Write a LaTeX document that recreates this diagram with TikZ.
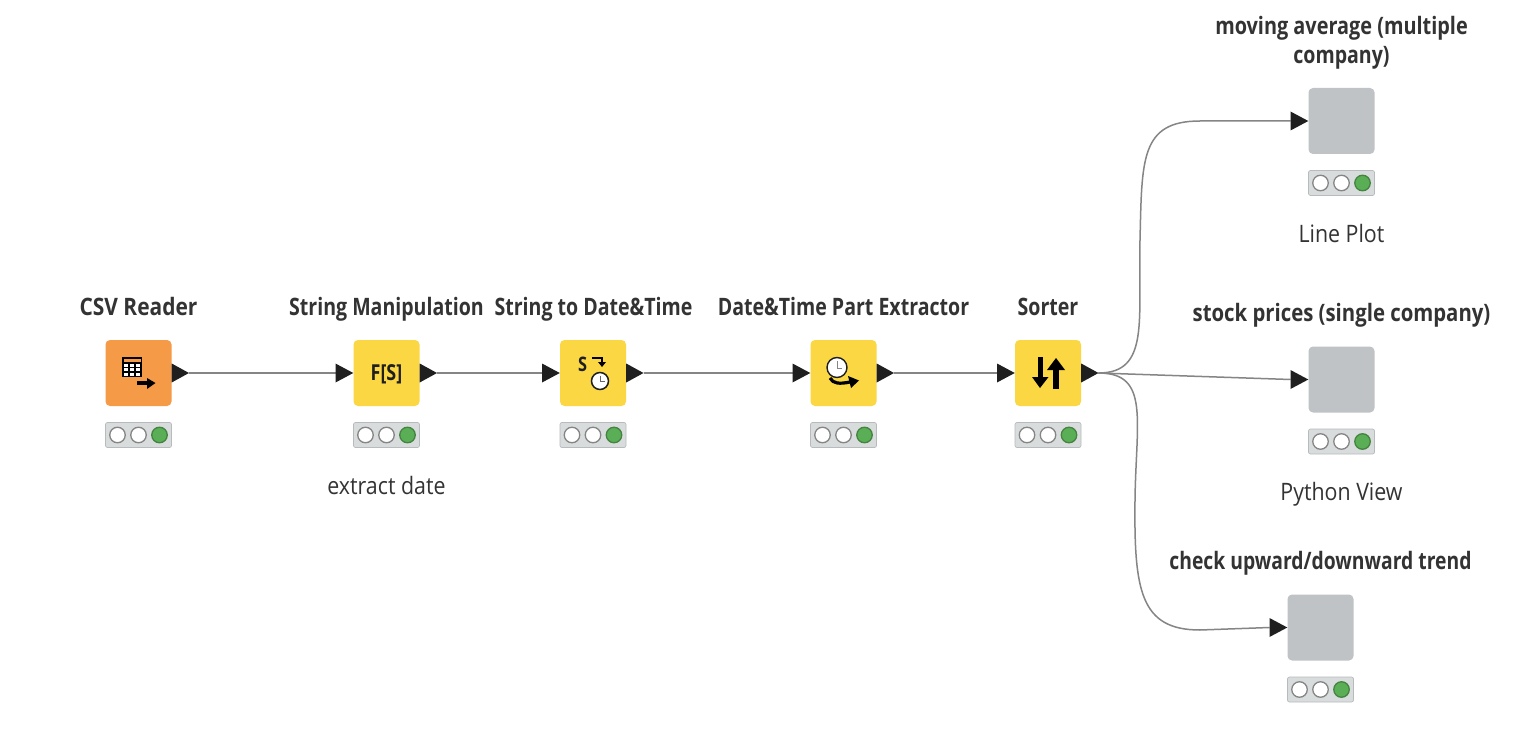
\documentclass[tikz,border=0pt]{standalone}
\usepackage{fontspec}
\usepackage{graphicx}
\setmainfont[FakeStretch=0.89,BoldFeatures={FakeStretch=0.815}]{Open Sans}
\usetikzlibrary{calc}
\definecolor{linec}{HTML}{858585}
\definecolor{port}{HTML}{1F1F1F}
\definecolor{orangeb}{HTML}{F59A47}
\definecolor{yellowb}{HTML}{FBD743}
\definecolor{greyb}{HTML}{BFC3C6}
\definecolor{lightb}{HTML}{D9DCDC}
\definecolor{greenl}{HTML}{5AAF56}
\definecolor{textc}{HTML}{333333}
\tikzset{
 x=1pt,y=-1pt,
 knode/.style={draw=none,rounded corners=4.5pt,minimum width=66pt,minimum height=66pt,inner sep=0pt},
 lightbar/.style={draw=lightb!85!black,line width=.7pt,fill=lightb,rounded corners=2pt,minimum width=66pt,minimum height=25pt,inner sep=0pt},
 lamp/.style={circle,draw=linec,line width=1.3pt,fill=white,minimum size=15.5pt,inner sep=0pt},
 lampon/.style={circle,draw=greenl!75!black,line width=1.3pt,fill=greenl,minimum size=15.5pt,inner sep=0pt},
 porttri/.style={fill=port,draw=none},
 wire/.style={draw=linec,line width=1.5pt},
 title/.style={text=textc,font=\fontsize{24}{29}\selectfont\bfseries,align=center,inner sep=0pt,anchor=base},
 note/.style={text=textc,font=\fontsize{24}{29}\selectfont,align=center,inner sep=0pt,anchor=base},
}
\newcommand{\knime}[4]{%
 \node[knode,fill=#4] (#1) at (#2,#3) {};
 \node[lightbar] (#1bar) at (#2,#3+62) {};
 \node[lamp] (#1a) at (#2-21,#3+62) {};
 \node[lamp] (#1b) at (#2,#3+62) {};
 \node[lampon] (#1c) at (#2+21,#3+62) {};
 \coordinate (#1out) at (#2+50.5,#3);
 \coordinate (#1in) at (#2-51,#3);
}
\newcommand{\outport}[1]{\fill[porttri] ($(#1.east)+(0,-9.5)$) -- (#1out) -- ($(#1.east)+(0,9.5)$) -- cycle;}
\newcommand{\inport}[1]{\fill[porttri] (#1in) ++(0,-9.5) -- (#1.west) -- ($(#1in)+(0,9.5)$) -- cycle;}
\begin{document}
\begin{tikzpicture}
\useasboundingbox (0,0) rectangle (1536,738);
\fill[white] (0,0) rectangle (1536,738);
\knime{csv}{138.5}{373}{orangeb}
\knime{sm}{386.5}{373}{yellowb}
\knime{sd}{593}{373}{yellowb}
\knime{dt}{843.5}{373}{yellowb}
\knime{so}{1048}{373}{yellowb}
\knime{lp}{1341.5}{121}{greyb}
\knime{py}{1341.5}{379.5}{greyb}
\knime{ck}{1320.5}{627.5}{greyb}
% connectors
\draw[wire] (csvout) -- (smin);
\draw[wire] (smout) -- (sdin);
\draw[wire] (sdout) -- (dtin);
\draw[wire] (dtout) -- (soin);
\draw[wire] (soout) .. controls (1150,373) and (1138,320) .. (1140,240) .. controls (1142,160) and (1140,121) .. (1200,121) -- (lpin);
\draw[wire] (soout) -- (pyin);
\draw[wire] (soout) .. controls (1150,373) and (1136,420) .. (1135,500) .. controls (1134,590) and (1140,630) .. (1200,630) -- (ckin);
% ports
\foreach \n in {csv,sm,sd,dt,so}{\outport{\n}}
\foreach \n in {sm,sd,dt,so,lp,py,ck}{\inport{\n}}
% CSV icon
\begin{scope}[shift={(122,357)}]
 \fill[black] (0,0) rectangle (20,20);
 \fill[orangeb] (1.5,1.5) rectangle (18.5,4.5);
 \foreach \i in {0,1,2}\foreach \j in {0,1,2}{\fill[white] (1.5+6*\i,6.5+4.6*\j) rectangle (6.2+6*\i,9.8+4.6*\j);}
 \draw[black,line width=3.4pt] (15,26) -- (28,26);
 \fill[black] (25,21) -- (33.5,26) -- (25,32) -- cycle;
\end{scope}
% F[S] icon
\node[inner sep=0pt,text=port,font=\fontsize{22}{22}\selectfont\bfseries] (smicon) at (386.5,374) {F[S]};
% S to clock icon
\node[inner sep=0pt,text=port,font=\fontsize{20}{20}\selectfont\bfseries] (sdicon) at (582.5,364) {S};
\draw[black,line width=1.8pt] (592,358) -- (602,358) -- (602,363);
\fill[black] (598,362) -- (606,362) -- (602,367) -- cycle;
\draw[port,line width=1.5pt,fill=white] (600,381) circle (8.5);
\draw[black!60,line width=1pt] (600,375.5) -- (600,381.5) -- (604.5,381.5);
% date-time part extractor icon
\draw[port,line width=1.4pt,fill=white] (837,367.5) circle (10);
\draw[linec,line width=1pt] (837,361) -- (837,368.5) -- (842,368.5);
\draw[black,line width=3.2pt] (830,378) .. controls (833,384) and (840,384) .. (850,382);
\fill[black] (848,376) -- (859,380.5) -- (851,388) -- cycle;
% sorter icon
\draw[black,line width=5pt] (1040,357) -- (1040,380);
\fill[black] (1032,377) -- (1048.5,377) -- (1040,388) -- cycle;
\draw[black,line width=6.5pt] (1056,367) -- (1056,389);
\fill[black] (1047,370) -- (1065,370) -- (1056,358) -- cycle;
% labels
\node[title] (t1) at (138.5,315.5) {\scalebox{1.07}[1]{CSV Reader}};
\node[title] (t2) at (386.5,315.5) {String Manipulation};
\node[title] (t3) at (593.5,315.5) {String to Date\&Time};
\node[title] (t4) at (843.5,315.5) {Date\&Time Part Extractor};
\node[title] (t5) at (1048,315.5) {Sorter};
\node[title] (t6) at (1341.5,63.5) {\scalebox{1.016}[1]{moving average (multiple}\\company)};
\node[title] (t7) at (1341.5,321.5) {\scalebox{1.04}[1]{stock prices (single company)}};
\node[title] (t8) at (1320.5,569.5) {\scalebox{0.987}[1]{check upward/downward trend}};
\node[note] (n1) at (386.5,494) {extract date};
\node[note] (n2) at (1341.5,242) {Line Plot};
\node[note] (n3) at (1341.5,500) {Python View};
\end{tikzpicture}
\end{document}
